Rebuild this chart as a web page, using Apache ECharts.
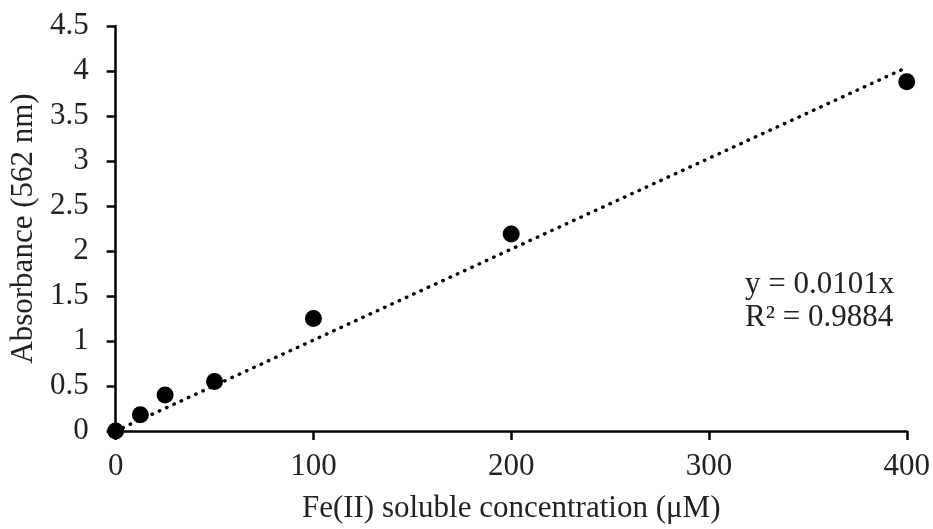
<!DOCTYPE html>
<html>
<head>
<meta charset="utf-8">
<script src="https://cdn.jsdelivr.net/npm/echarts@6/dist/echarts.min.js"></script>
<style>
  html, body { margin: 0; padding: 0; background: #fff; }
  #main { width: 933px; height: 529px; }
</style>
</head>
<body>
<div id="main"></div>
<script>
// measured points
const concX = [0, 12.5, 25, 50, 100, 200, 400];
const absY = [0, 0.18, 0.4, 0.55, 1.25, 2.19, 3.88];

// linear trendline y = 0.0101x (through origin)
const trendX = [0, 400];
const trendY = [0, 4.04];

const xTicks = [0, 100, 200, 300, 400];
const yTicks = [0, 0.5, 1, 1.5, 2, 2.5, 3, 3.5, 4, 4.5];

const eqLines = ['y = 0.0101x', 'R² = 0.9884'];

const font = '"Liberation Serif", "Times New Roman", serif';

const chart = echarts.init(document.getElementById('main'));

const axisCommon = {
  axisLine: { show: true, lineStyle: { color: '#000', width: 2.5 } },
  axisTick: { show: true, inside: false, length: 9, lineStyle: { color: '#000', width: 2.5 } },
  splitLine: { show: false },
  axisLabel: { color: '#222', fontFamily: font, fontSize: 31 },
  nameTextStyle: { color: '#222', fontFamily: font, fontSize: 31 }
};

let option = {
  backgroundColor: '#fff',
  animation: false,
  grid: { left: 115, right: 25, top: 26, bottom: 96 },
  xAxis: Object.assign({}, axisCommon, {
    type: 'value',
    min: xTicks[0],
    max: xTicks[xTicks.length - 1],
    interval: 100,
    name: 'Fe(II) soluble concentration (μM)',
    nameLocation: 'middle',
    nameGap: 62,
    axisLabel: Object.assign({}, axisCommon.axisLabel, { margin: 20 })
  }),
  yAxis: Object.assign({}, axisCommon, {
    type: 'value',
    min: yTicks[0],
    max: yTicks[yTicks.length - 1],
    interval: 0.5,
    name: 'Absorbance (562 nm)',
    nameLocation: 'middle',
    nameGap: 72,
    axisLabel: Object.assign({}, axisCommon.axisLabel, { margin: 27 })
  }),
  series: [
    {
      type: 'line',
      data: trendX.map((x, i) => [x, trendY[i]]),
      showSymbol: false,
      symbol: 'none',
      lineStyle: { color: '#000', width: 3.4, type: [0.5, 7.5], cap: 'round' },
      z: 2
    },
    {
      type: 'scatter',
      data: concX.map((x, i) => [x, absY[i]]),
      symbol: 'circle',
      symbolSize: 17,
      itemStyle: { color: '#000', opacity: 1 },
      z: 3
    }
  ],
  graphic: [
    {
      type: 'text',
      left: 745,
      top: 268,
      style: {
        text: eqLines.join('\n'),
        font: '31px ' + font,
        lineHeight: 33,
        fill: '#222'
      }
    }
  ]
};

chart.setOption(option);
</script>
</body>
</html>
